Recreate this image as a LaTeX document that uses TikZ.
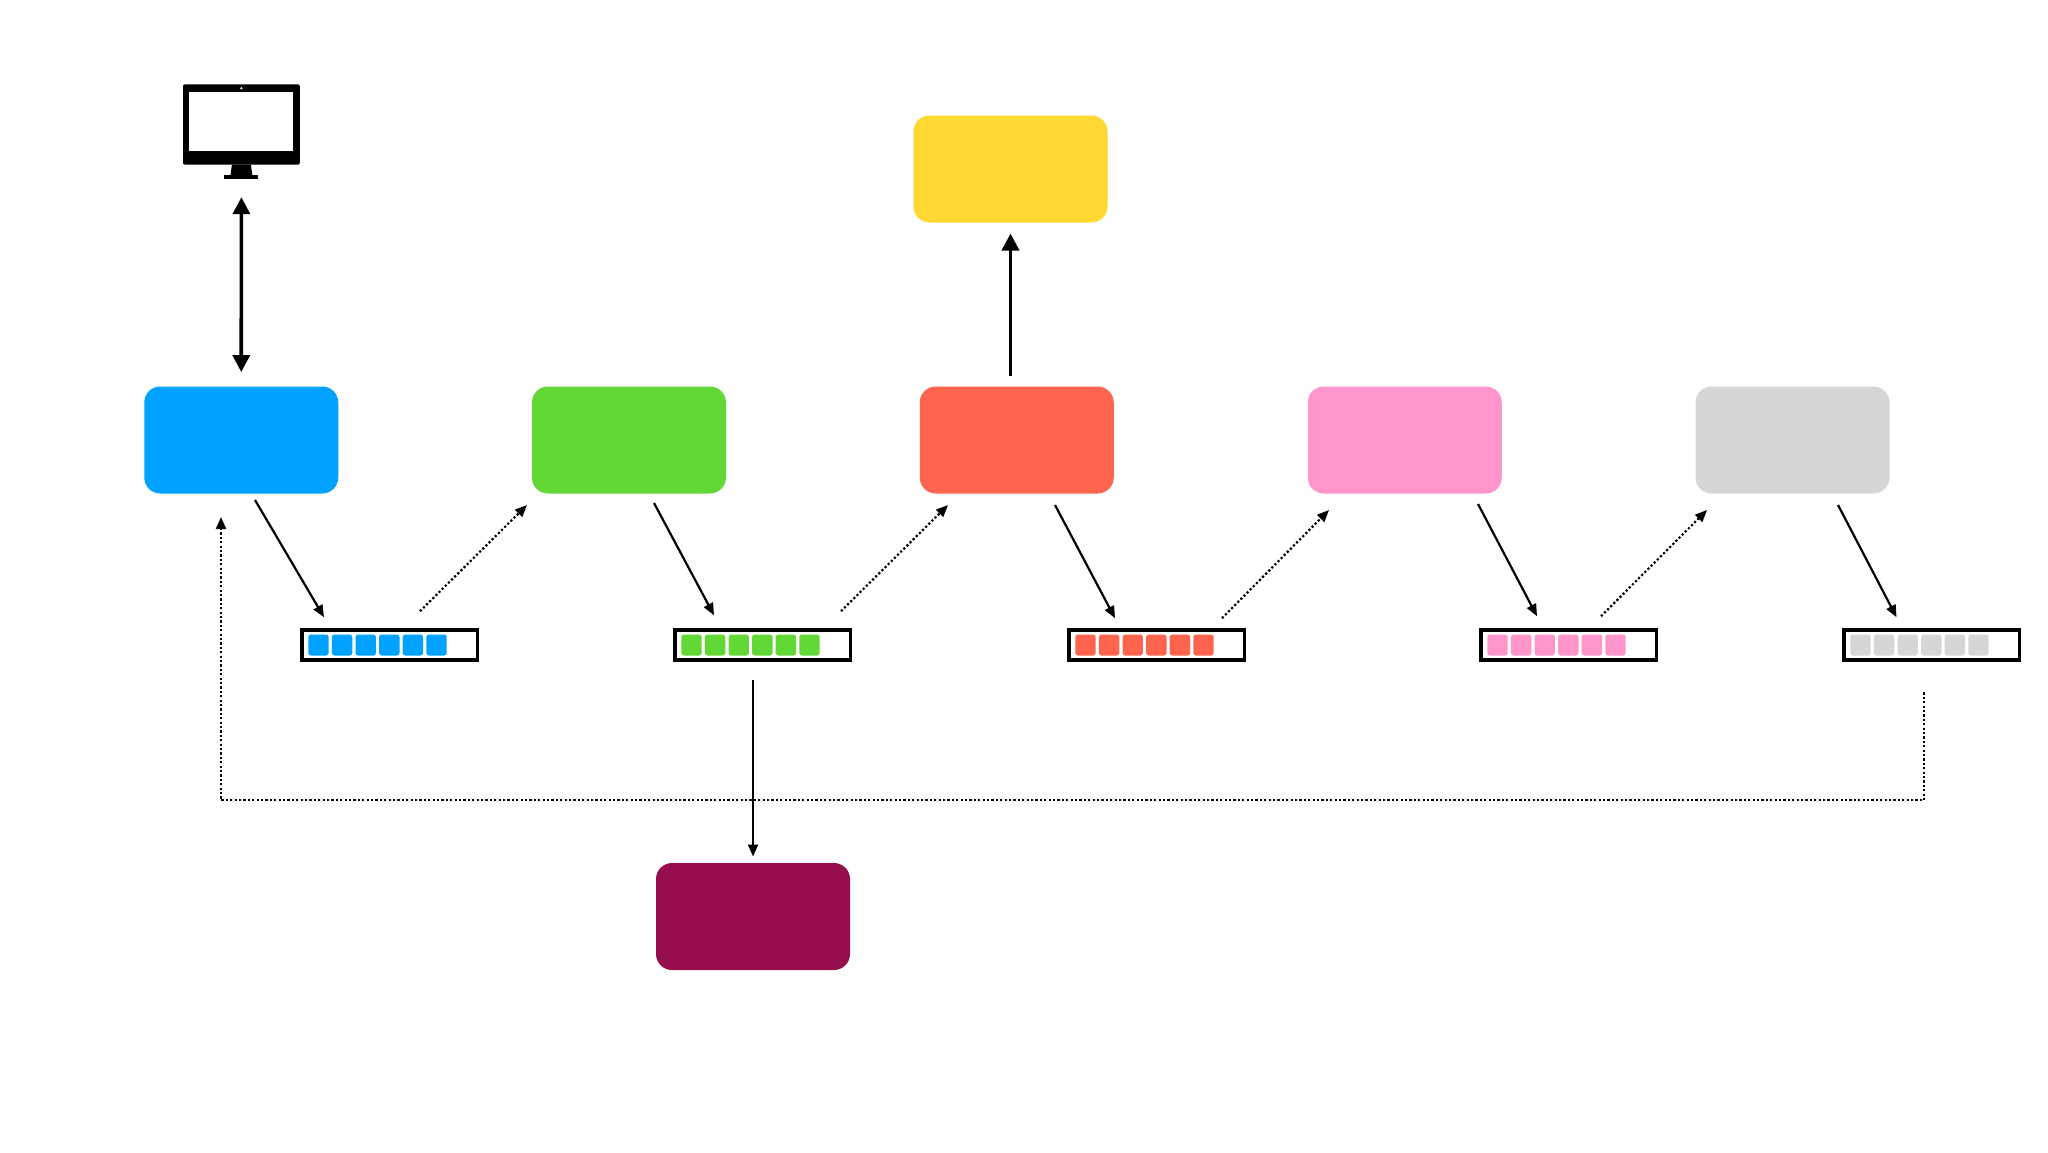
\documentclass[tikz,border=0pt]{standalone}
\usetikzlibrary{arrows.meta}
\definecolor{cblue}{HTML}{00A2FF}
\definecolor{cgreen}{HTML}{61D836}
\definecolor{cred}{HTML}{FF644E}
\definecolor{cpink}{HTML}{FF95CA}
\definecolor{cgray}{HTML}{D6D6D6}
\definecolor{cyellow}{HTML}{FFD931}
\definecolor{cplum}{HTML}{970E4E}
\tikzset{
  x=0.5pt,y=-0.5pt,
  proc/.style={fill=#1,rounded corners=8pt,minimum width=97pt,minimum height=53.5pt,inner sep=0pt,outer sep=0pt},
  queue/.style={draw=black,line width=1.8pt,fill=white,minimum width=87.8pt,minimum height=14.8pt,inner sep=0pt,outer sep=0.5pt},
  cell/.style={fill=#1,rounded corners=1.3pt,minimum width=10.2pt,minimum height=10.5pt,inner sep=0pt,outer sep=0pt},
  solidarrow/.style={line width=1.1pt,-{Triangle[length=6pt,width=5pt]}},
  dotarrow/.style={line width=1.1pt,dash pattern=on 1.1pt off 1.1pt,-{Triangle[length=6pt,width=5pt]}},
  bigarrow/.style={line width=1.8pt,-{Triangle[length=8.5pt,width=8.5pt]}},
  bigboth/.style={line width=1.8pt,{Triangle[length=8.5pt,width=8.5pt]}-{Triangle[length=8.5pt,width=8.5pt]}},
}
\newcommand{\makequeue}[3]{% name, centre x, colour
  \node[queue] (#1) at (#2,645) {};
  \foreach \i in {0,...,5}{
    \node[cell=#3] (#1c\i) at ({#2-71+23.6*\i},645) {};
  }
}
\begin{document}
\begin{tikzpicture}
\useasboundingbox (0,0) rectangle (2048,1152);
\fill[white] (0,0) rectangle (2048,1152);

% process boxes
\node[proc=cblue]   (blue)   at (241.25,440) {};
\node[proc=cgreen]  (green)  at (629,440) {};
\node[proc=cred]    (red)    at (1016.75,440) {};
\node[proc=cpink]   (pink)   at (1404.75,440) {};
\node[proc=cgray]   (gray)   at (1792.5,440) {};
\node[proc=cyellow] (yellow) at (1010.5,169) {};
\node[proc=cplum]   (plum)   at (753,916.5) {};

% queues
\makequeue{qa}{389.5}{cblue}
\makequeue{qb}{762.5}{cgreen}
\makequeue{qc}{1156.5}{cred}
\makequeue{qd}{1568.5}{cpink}
\makequeue{qe}{1931.5}{cgray}

% monitor
\node[fill=black,rounded corners=1pt,minimum width=58.4pt,minimum height=40.2pt,inner sep=0pt,outer sep=0pt] (mon) at (241.4,124.5) {};
\node[fill=white,minimum width=52pt,minimum height=29.6pt,inner sep=0pt,outer sep=0pt] (screen) at (241.3,121.7) {};
\node[fill=white,circle,minimum size=1.2pt,inner sep=0pt] (cam) at (241.4,88.2) {};
\fill[black] ([shift={(-9.5,0)}]mon.south) -- ([shift={(9.5,0)}]mon.south) -- ([shift={(11,11)}]mon.south) -- ([shift={(-11,11)}]mon.south) -- cycle;
\fill[black] ([shift={(-17,10.5)}]mon.south) rectangle ([shift={(17,14.5)}]mon.south);

% connectors
\draw[bigboth] ([shift={(0,32.5)}]mon.south) -- ([shift={(0,-14.5)}]blue.north);
\draw[bigarrow] ([shift={(-6.25,-10.5)}]red.north) -- ([shift={(0,11)}]yellow.south);

\draw[solidarrow] ([shift={(13.75,6.5)}]blue.south) -- ([shift={(-65.5,-12)}]qa.north);
\draw[dotarrow] ([shift={(30.5,-18)}]qa.north) -- ([shift={(-102,11.5)}]green.south);
\draw[solidarrow] ([shift={(25,9.5)}]green.south) -- ([shift={(-48.5,-14)}]qb.north);
\draw[dotarrow] ([shift={(78.5,-18)}]qb.north) -- ([shift={(-68.75,11.5)}]red.south);
\draw[solidarrow] ([shift={(38.25,11.5)}]red.south) -- ([shift={(-41.5,-11)}]qc.north);
\draw[dotarrow] ([shift={(65.5,-11)}]qc.north) -- ([shift={(-75.75,16.5)}]pink.south);
\draw[solidarrow] ([shift={(73.25,10.5)}]pink.south) -- ([shift={(-31.5,-13)}]qd.north);
\draw[dotarrow] ([shift={(32.5,-13)}]qd.north) -- ([shift={(-85.5,16.5)}]gray.south);
\draw[solidarrow] ([shift={(45.5,11.5)}]gray.south) -- ([shift={(-35,-12)}]qe.north);

\draw[solidarrow] ([shift={(-9.5,19.5)}]qb.south) -- ([shift={(0,-6.5)}]plum.north);
\draw[dotarrow] ([shift={(-7.5,31.5)}]qe.south) -- ++(0,108) -| ([shift={(-20.25,23.5)}]blue.south);
\end{tikzpicture}
\end{document}
